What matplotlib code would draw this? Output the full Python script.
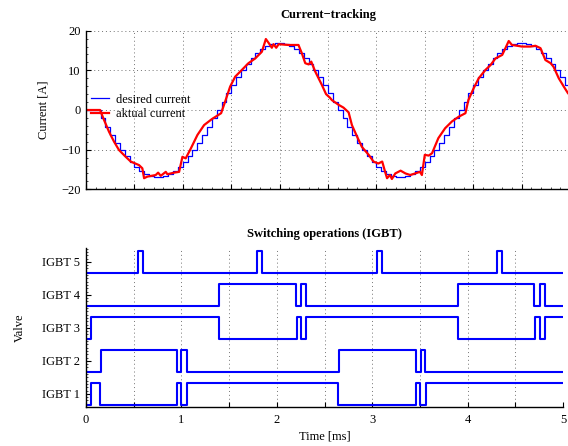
import numpy as np
import matplotlib
matplotlib.use("Agg")
import matplotlib.pyplot as plt
from matplotlib.ticker import MultipleLocator, FuncFormatter

plt.rcParams['font.family'] = ['Liberation Serif', 'DejaVu Serif']
plt.rcParams['font.size'] = 9
plt.rcParams['axes.unicode_minus'] = True

# ---------------- data ----------------
# desired current: zero-order-hold samples (A), starting at 0.15 ms, every 0.05 ms
des_start = 0.15
des_period = 0.05
des_values = [
    -2.1, -4.2, -6.3, -8.2, -10.0, -11.6, -13.1, -14.4, -15.4, -16.2, -16.7, -17.0, -17.0,
    -16.7, -16.2, -15.4, -14.4, -13.1, -11.6, -10.0, -8.2, -6.3, -4.2, -2.1, 0.0,
    2.1, 4.2, 6.3, 8.2, 10.0, 11.6, 13.1, 14.4, 15.4, 16.2, 16.7, 17.0, 17.0,
    16.7, 16.2, 15.4, 14.4, 13.1, 11.6, 10.0, 8.2, 6.3, 4.2, 2.1, 0.0,
    -2.1, -4.2, -6.3, -8.2, -10.0, -11.6, -13.1, -14.4, -15.4, -16.2, -16.7, -17.0, -17.0,
    -16.7, -16.2, -15.4, -14.4, -13.1, -11.6, -10.0, -8.2, -6.3, -4.2, -2.1, 0.0,
    2.1, 4.2, 6.3, 8.2, 10.0, 11.6, 13.1, 14.4, 15.4, 16.2, 16.7, 17.0, 17.0,
    16.7, 16.2, 15.4, 14.4, 13.1, 11.6, 10.0, 8.2, 6.3, 4.2,
]

# actual current (time in ms, current in A)
act_t = [0.00, 0.145, 0.186, 0.238, 0.29, 0.341, 0.41, 0.462, 0.548, 0.582, 0.60,
         0.634, 0.72, 0.745, 0.772, 0.824, 0.841, 0.91, 0.962, 0.996, 1.03, 1.083,
         1.151, 1.22, 1.30, 1.396, 1.437, 1.489, 1.541, 1.61, 1.678, 1.748, 1.817,
         1.858, 1.89, 1.92, 1.937, 1.965, 1.99, 2.092, 2.195, 2.23, 2.265, 2.30,
         2.327, 2.368, 2.437, 2.48, 2.52, 2.54, 2.61, 2.66, 2.713, 2.747, 2.80,
         2.85, 2.92, 2.97, 3.02, 3.06, 3.09, 3.11, 3.14, 3.16, 3.195, 3.25, 3.30,
         3.35, 3.40, 3.45, 3.47, 3.50, 3.54, 3.575, 3.64, 3.71, 3.78, 3.85, 3.92,
         3.95, 4.005, 4.057, 4.126, 4.178, 4.23, 4.30, 4.333, 4.367, 4.40, 4.454,
         4.505, 4.59, 4.643, 4.695, 4.746, 4.80, 4.83, 4.884, 4.936, 4.98, 5.0]
act_i = [0.0, 0.0, -2.5, -5.5, -8.0, -10.1, -11.8, -13.0, -13.9, -14.7, -17.2,
         -16.8, -16.4, -15.8, -16.6, -15.6, -16.2, -15.8, -15.6, -11.8, -12.2, -9.7,
         -6.3, -3.8, -2.3, -0.8, 2.1, 5.9, 8.4, 10.1, 11.8, 13.0, 14.7,
         17.9, 16.8, 15.7, 16.6, 15.7, 16.6, 16.4, 16.4, 14.3, 11.8, 11.5,
         12.2, 9.7, 6.3, 4.0, 3.1, 2.5, 1.3, 0.6, -0.6, -3.8, -6.7,
         -9.3, -11.3, -13.0, -13.5, -13.0, -15.6, -17.2, -16.4, -17.4, -16.0, -15.3, -16.0,
         -16.4, -16.0, -15.6, -16.4, -11.3, -11.5, -10.9, -7.1, -4.6, -2.9, -1.7, -0.8,
         2.5, 5.5, 8.0, 10.1, 11.3, 13.0, 13.9, 15.6, 17.4, 16.4, 16.2,
         16.0, 16.0, 16.2, 15.6, 12.6, 11.8, 10.9, 8.0, 5.9, 4.2, 3.8]

# switching instants (ms); every IGBT starts in the off state and toggles at each instant
valves = ['IGBT 1', 'IGBT 2', 'IGBT 3', 'IGBT 4', 'IGBT 5']
igbt1_toggles = [0.05, 0.147, 0.95, 0.996, 1.055, 2.645, 3.46, 3.50, 3.565]
igbt2_toggles = [0.154, 0.95, 0.996, 1.055, 2.655, 3.46, 3.508, 3.557]
igbt3_toggles = [0.05, 1.394, 2.208, 2.254, 2.306, 3.90, 4.707, 4.76, 4.815]
igbt4_toggles = [1.397, 2.20, 2.254, 2.306, 3.903, 4.70, 4.76, 4.81]
igbt5_toggles = [0.548, 0.60, 1.796, 1.848, 3.05, 3.106, 4.305, 4.357]
t_end = 5.0

# ---------------- figure ----------------
W, H = 568, 446
fig = plt.figure(figsize=(W / 100, H / 100), dpi=100)
ax1 = fig.add_axes([86 / W, 1 - 189.3 / H, 484 / W, (189.3 - 30.7) / H])
ax2 = fig.add_axes([86 / W, 1 - 407 / H, 477 / W, (407 - 248) / H])

grid_kw = dict(linestyle=(0, (1, 3)), color='0.45', linewidth=0.7)

# --- top: current tracking ---
des_t = [0.0] + [des_start + k * des_period for k in range(len(des_values))] + [t_end]
des_v = [0.0] + des_values + [des_values[-1]]
ax1.step(des_t, des_v, where='post', color='#0000ff', lw=0.9, label='desired current')
ax1.plot(act_t, act_i, color='#ff0000', lw=1.6, label='aktual current')
ax1.set_xlim(0, 5)
ax1.set_ylim(-20, 20)
ax1.xaxis.set_major_locator(MultipleLocator(0.5))
ax1.xaxis.set_minor_locator(MultipleLocator(0.1))
ax1.yaxis.set_major_locator(MultipleLocator(10))
ax1.yaxis.set_minor_locator(MultipleLocator(2))
ax1.set_xticklabels([])
ax1.grid(True, which='major', **grid_kw)
ax1.set_ylabel('Current [A]')
ax1.yaxis.set_label_coords(-0.0764, 0.5)
ax1.set_title('Current\u2212tracking', fontweight='bold', fontsize=9, pad=9)
ax1.legend(loc='center left', bbox_to_anchor=(0.0097, 0.52), frameon=False,
           borderpad=0, borderaxespad=0, handlelength=1.45, handletextpad=0.55,
           labelspacing=0.2, fontsize=9)

# --- bottom: switching operations ---
toggles = [igbt1_toggles, igbt2_toggles, igbt3_toggles, igbt4_toggles, igbt5_toggles]
for idx, tg in enumerate(toggles):
    level = idx + 1
    xs = [0.0] + list(tg) + [t_end]
    states = [0]
    for _ in tg:
        states.append(1 - states[-1])
    states.append(states[-1])
    ys = [level - 1 / 3 + (2 / 3) * s for s in states]
    ax2.step(xs, ys, where='post', color='#0000ff', lw=1.5)

ax2.set_xlim(0, 5)
ax2.set_ylim(0.6, 5.42)
ax2.set_yticks(range(1, 6))
ax2.set_yticklabels(valves)
ax2.xaxis.set_major_locator(MultipleLocator(0.5))
ax2.xaxis.set_major_formatter(FuncFormatter(
    lambda v, p: f'{int(round(v))}' if abs(v - round(v)) < 1e-6 else ''))
ax2.yaxis.set_minor_locator(MultipleLocator(0.1))
ax2.grid(True, axis='x', which='major', **grid_kw)
ax2.set_xlabel('Time [ms]', labelpad=3)
ax2.set_ylabel('Valve')
ax2.yaxis.set_label_coords(-0.126, 0.5)
ax2.set_title('Switching operations (IGBT)', fontweight='bold', fontsize=9, pad=8)

for ax in (ax1, ax2):
    ax.spines['top'].set_visible(False)
    ax.spines['right'].set_visible(False)
    ax.spines['left'].set_linewidth(1.0)
    ax.spines['bottom'].set_linewidth(1.0)
    ax.tick_params(which='major', direction='in', length=3.5, width=0.8, pad=5,
                   labelsize=9, colors='black')
    ax.tick_params(which='minor', direction='in', length=1.5, width=0.5)
    ax.tick_params(axis='y', which='major', pad=4)
    ax.set_axisbelow(True)

fig.savefig('out.png', dpi=100)
